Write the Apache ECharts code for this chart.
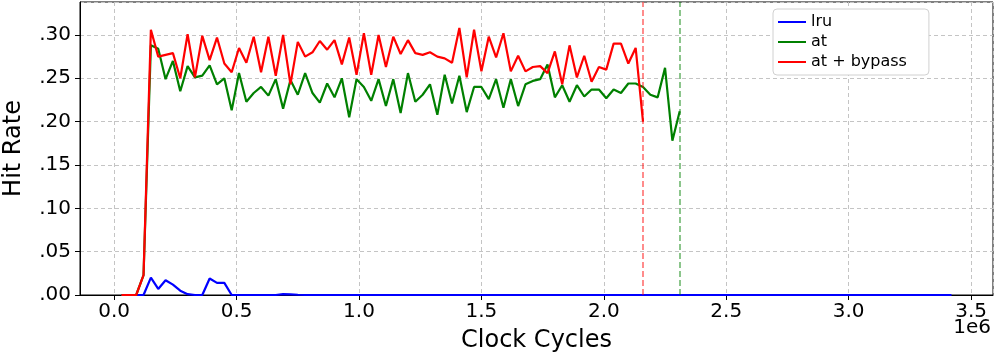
<!DOCTYPE html>
<html>
<head>
<meta charset="utf-8">
<script src="https://cdn.jsdelivr.net/npm/echarts@6/dist/echarts.min.js"></script>
<style>
  html, body { margin: 0; padding: 0; background: #fff; }
  #chart { width: 996px; height: 357px; }
</style>
</head>
<body>
<div id="chart"></div>
<script>
// clock cycles (in units of 1e6), one sample every 30000 cycles
const cycles = [
  0.03, 0.06, 0.09, 0.12, 0.15, 0.18, 0.21, 0.24, 0.27, 0.30,
  0.33, 0.36, 0.39, 0.42, 0.45, 0.48, 0.51, 0.54, 0.57, 0.60,
  0.63, 0.66, 0.69, 0.72, 0.75, 0.78, 0.81, 0.84, 0.87, 0.90,
  0.93, 0.96, 0.99, 1.02, 1.05, 1.08, 1.11, 1.14, 1.17, 1.20,
  1.23, 1.26, 1.29, 1.32, 1.35, 1.38, 1.41, 1.44, 1.47, 1.50,
  1.53, 1.56, 1.59, 1.62, 1.65, 1.68, 1.71, 1.74, 1.77, 1.80,
  1.83, 1.86, 1.89, 1.92, 1.95, 1.98, 2.01, 2.04, 2.07, 2.10,
  2.13, 2.16, 2.19, 2.22, 2.25, 2.28, 2.31, 2.34, 2.37, 2.40,
  2.43, 2.46, 2.49, 2.52, 2.55, 2.58, 2.61, 2.64, 2.67, 2.70,
  2.73, 2.76, 2.79, 2.82, 2.85, 2.88, 2.91, 2.94, 2.97, 3.00,
  3.03, 3.06, 3.09, 3.12, 3.15, 3.18, 3.21, 3.24, 3.27, 3.30,
  3.33, 3.36, 3.39, 3.42
];

const lru = [
  0, 0, 0, 0, 0.020, 0.007, 0.017, 0.012, 0.005, 0.001,
  0, 0, 0.019, 0.014, 0.014, 0, 0, 0, 0, 0,
  0, 0, 0.001, 0.0008, 0.0003, 0, 0, 0, 0, 0,
  0, 0, 0, 0, 0, 0, 0, 0, 0, 0,
  0, 0, 0, 0, 0, 0, 0, 0, 0, 0,
  0, 0, 0, 0, 0, 0, 0, 0, 0, 0,
  0, 0, 0, 0, 0, 0, 0, 0, 0, 0,
  0, 0, 0, 0, 0, 0, 0, 0, 0, 0,
  0, 0, 0, 0, 0, 0, 0, 0, 0, 0,
  0, 0, 0, 0, 0, 0, 0, 0, 0, 0,
  0, 0, 0, 0, 0, 0, 0, 0, 0, 0,
  0, 0, 0, 0
];

const at = [
  0, 0, 0, 0.023, 0.288, 0.284, 0.249, 0.270, 0.235, 0.264,
  0.251, 0.253, 0.265, 0.243, 0.250, 0.213, 0.256, 0.223, 0.233, 0.240,
  0.230, 0.249, 0.215, 0.248, 0.231, 0.256, 0.233, 0.222, 0.244, 0.228,
  0.250, 0.205, 0.249, 0.240, 0.224, 0.249, 0.218, 0.249, 0.210, 0.256,
  0.223, 0.231, 0.243, 0.208, 0.254, 0.221, 0.253, 0.211, 0.240, 0.240,
  0.226, 0.249, 0.216, 0.249, 0.218, 0.243, 0.247, 0.249, 0.266, 0.228,
  0.242, 0.223, 0.242, 0.229, 0.237, 0.237, 0.227, 0.237, 0.233, 0.244,
  0.244, 0.240, 0.231, 0.228, 0.262, 0.178, 0.212
];

const atBypass = [
  0, 0, 0, 0.023, 0.306, 0.275, 0.277, 0.279, 0.250, 0.301,
  0.251, 0.299, 0.271, 0.297, 0.267, 0.257, 0.285, 0.268, 0.298, 0.257,
  0.298, 0.253, 0.300, 0.243, 0.292, 0.275, 0.280, 0.293, 0.283, 0.294,
  0.266, 0.297, 0.254, 0.302, 0.254, 0.300, 0.263, 0.298, 0.278, 0.294,
  0.279, 0.277, 0.280, 0.275, 0.273, 0.268, 0.308, 0.251, 0.306, 0.258,
  0.298, 0.274, 0.302, 0.258, 0.276, 0.258, 0.263, 0.264, 0.256, 0.281,
  0.243, 0.288, 0.251, 0.276, 0.246, 0.263, 0.260, 0.290, 0.290, 0.267,
  0.285, 0.200
];

// end of run markers (1e6 cycles)
const atEnd = 2.31;
const atBypassEnd = 2.16;

const font = 'DejaVu Sans';

const pairs = (vals) => vals.map((v, i) => [cycles[i], v]);

const chart = echarts.init(document.getElementById('chart'));

const endLine = (x, color) => ({
  silent: true,
  symbol: 'none',
  label: { show: false },
  lineStyle: { color: color, opacity: 0.5, type: [6, 3], width: 1.8 },
  data: [{ xAxis: x }]
});

const gridLine = { show: true, lineStyle: { color: '#c4c4c4', type: [4, 3], width: 1 } };

chart.setOption({
  animation: false,
  grid: {
    left: 80, right: 3, top: 2, bottom: 62,
    outerBoundsMode: 'none',
    containLabel: false,
    show: true, borderColor: '#000', borderWidth: 1
  },
  legend: {
    orient: 'vertical',
    left: 773, top: 9,
    padding: [5, 22, 5, 5],
    icon: 'rect',
    itemWidth: 28,
    itemHeight: 2,
    itemGap: 4,
    itemTextGap: 11,
    backgroundColor: '#fff',
    borderColor: '#d0d0d0',
    borderWidth: 1,
    borderRadius: 4,
    textStyle: { fontFamily: font, fontSize: 16, color: '#000', lineHeight: 16 },
    data: ['lru', 'at', 'at + bypass']
  },
  xAxis: {
    type: 'value',
    min: -0.1395,
    max: 3.5895,
    splitNumber: 8,
    name: 'Clock Cycles',
    nameLocation: 'middle',
    nameGap: 34,
    nameTextStyle: { fontFamily: font, fontSize: 24, color: '#000' },
    axisLine: { show: true, onZero: false, lineStyle: { color: '#000', width: 1 } },
    axisTick: { show: true, length: 5, lineStyle: { color: '#000' } },
    axisLabel: {
      fontFamily: font, fontSize: 20, color: '#000', margin: 7,
      showMinLabel: false, showMaxLabel: false,
      formatter: (v) => v.toFixed(1)
    },
    splitLine: gridLine
  },
  yAxis: {
    type: 'value',
    min: 0,
    max: 0.338,
    interval: 0.05,
    name: 'Hit Rate',
    nameLocation: 'middle',
    nameGap: 54,
    nameTextStyle: { fontFamily: font, fontSize: 24, color: '#000' },
    axisLine: { show: true, onZero: false, lineStyle: { color: '#000', width: 1 } },
    axisTick: { show: true, length: 5, lineStyle: { color: '#000' } },
    axisLabel: {
      fontFamily: font, fontSize: 20, color: '#000', margin: 9,
      showMaxLabel: false,
      formatter: (v) => v.toFixed(2).replace(/^0/, '')
    },
    splitLine: gridLine
  },
  graphic: [{
    type: 'text',
    right: 5,
    top: 318,
    style: { text: '1e6', font: '20px "DejaVu Sans"', fill: '#000' }
  }],
  series: [
    {
      name: 'lru', type: 'line', data: pairs(lru),
      symbol: 'none', clip: false,
      lineStyle: { color: '#0000ff', width: 2.2 }, itemStyle: { color: '#0000ff' }
    },
    {
      name: 'at', type: 'line', data: pairs(at),
      symbol: 'none',
      lineStyle: { color: '#008000', width: 2.2 }, itemStyle: { color: '#008000' },
      markLine: endLine(atEnd, '#008000')
    },
    {
      name: 'at + bypass', type: 'line', data: pairs(atBypass),
      symbol: 'none',
      lineStyle: { color: '#ff0000', width: 2.2 }, itemStyle: { color: '#ff0000' },
      markLine: endLine(atBypassEnd, '#ff0000')
    }
  ]
});
</script>
</body>
</html>
